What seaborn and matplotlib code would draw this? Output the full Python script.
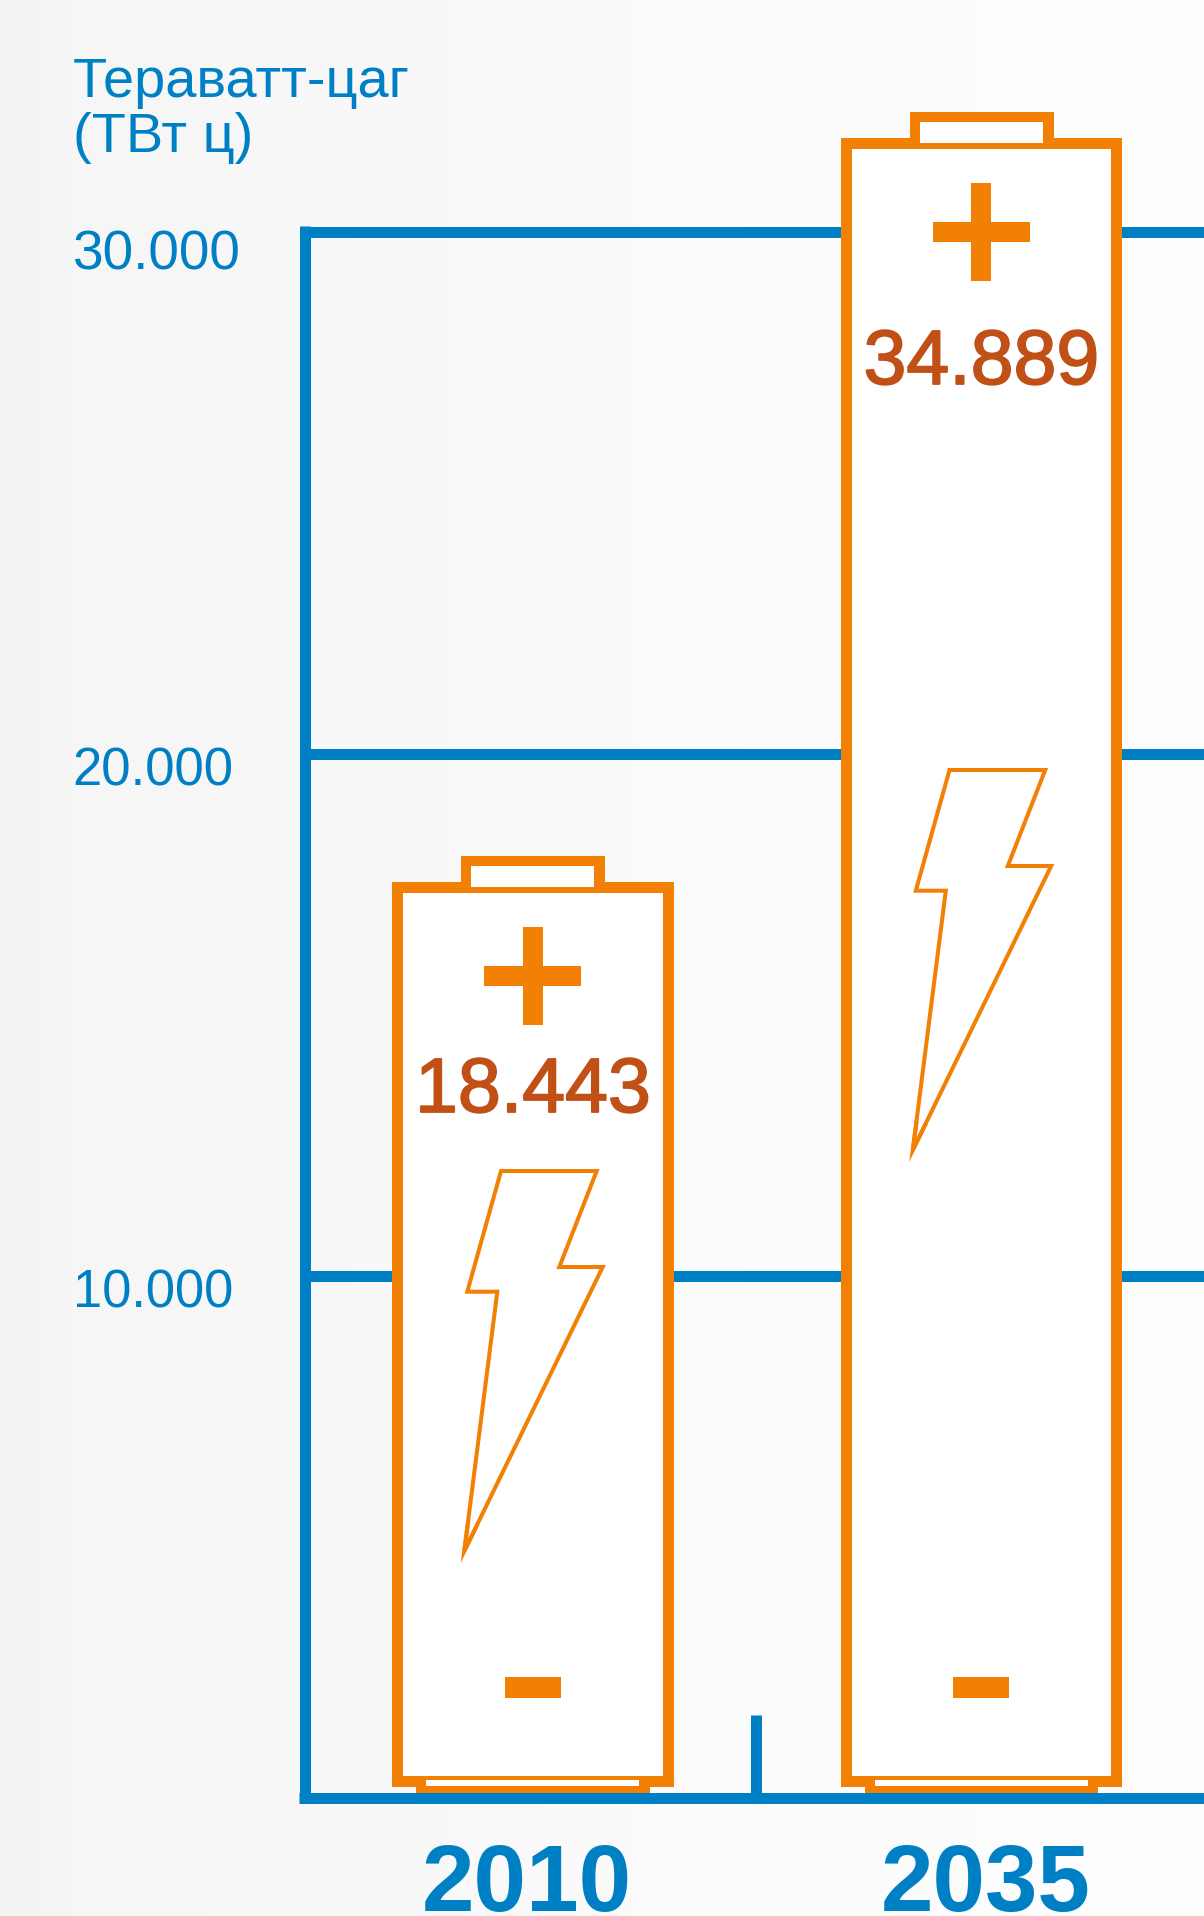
import seaborn as sns
import numpy as np
import pandas as pd
import matplotlib.pyplot as plt
import matplotlib.patheffects as pe
from matplotlib.patches import Rectangle, Polygon
from matplotlib.transforms import Affine2D

# values
years = ["2010", "2035"]
printed_values = ["18.443", "34.889"]
drawn_heights = [17433, 31686]  # the batteries are not drawn to scale
grid_values = [10000, 20000, 30000]
grid_labels = ["10.000", "20.000", "30.000"]
unit_lines = ["Тераватт-цаг", "(ТВт ц)"]

BLUE = "#0080C4"
ORANGE = "#F28005"
RUST = "#C05016"
W, H = 1204, 1916

sns.set_theme(style="white")
plt.rcParams['font.family'] = ['Liberation Sans', 'DejaVu Sans']

fig = plt.figure(figsize=(W / 100, H / 100), dpi=100)
ax = fig.add_axes([0, 0, 1, 1])
ax.set_axis_off()

# y pixel = 1797.5 - value * 0.0522
val = lambda py: (1797.5 - py) / 0.0522
cat = lambda px: (px - 532.5) / 448.5
px = Affine2D().scale(1, -1).translate(0, H)  # top-left pixel coordinates

df = pd.DataFrame({"year": years, "height": drawn_heights})
sns.barplot(data=df, x="year", y="height", order=years, width=0.604, color="white",
            saturation=1, edgecolor=ORANGE, linewidth=7.92, zorder=3, ax=ax)
ax.set(xlabel="", ylabel="")
ax.set_xlim(cat(0), cat(W))
ax.set_ylim(val(H), val(0))

floor = val(1780.5)
for p in ax.patches:
    top = p.get_y() + p.get_height()
    p.set_y(floor)
    p.set_height(top - floor)

# background
shade = np.interp(np.linspace(0, 1, 400), [0, 0.06, 0.3, 0.6, 1], [0.953, 0.961, 0.969, 0.984, 0.992])
ax.imshow(shade[None, :], cmap="gray", vmin=0, vmax=1, aspect="auto", zorder=0,
          extent=(cat(0), cat(W), val(H), val(0)))

# axes
ax.hlines(grid_values, cat(304.5), cat(W), color=BLUE, lw=7.92, zorder=1)
ax.vlines(cat(304.5), val(1803), val(226), color=BLUE, lw=7.92, zorder=5)
ax.hlines(0, cat(299), cat(W), color=BLUE, lw=7.92, zorder=5)
ax.vlines([cat(755.5), cat(1207.5)], val(1715), val(1797), color=BLUE, lw=7.92, zorder=5)

bolt = [(0, 0), (95.7, 0), (58.3, 96), (101.7, 96), (-36.7, 380), (-3.7, 120.7), (-33.7, 120.7)]
# agg cuts the sharp mitre at the foot of the bolt, so this piece is filled by hand
bolt_tip = [(-40.3, 392), (-34.8, 349.9), (-30.8, 350.5), (-33.1, 368.4), (-25.2, 352.2), (-21.6, 354)]
bolt_at = [(501, 1171), (949.5, 770)]
label_at = [(533, 1112), (981.5, 384)]
year_at = [(526.5, 1911), (986, 1911)]
centers = [532.5, 981]
tops = [882, 138]


def box(x0, y0, x1, y1, color, z=4):
    ax.add_patch(Rectangle((x0, y0), x1 - x0, y1 - y0, fc=color, ec="none", zorder=z,
                           transform=px, clip_on=False))


for i, c in enumerate(centers):
    t = tops[i]
    # top cap
    box(c - 71.5, t - 26, c + 72.5, t + 5, ORANGE)
    box(c - 61.5, t - 16, c + 61.5, t + 5, "white")
    box(c - 71.5, t + 5, c + 72.5, t + 11, ORANGE)
    # bottom cap
    box(c - 116.5, 1785, c + 117, 1793, ORANGE)
    box(c - 106.5, 1780, c + 106.5, 1786, "white")
    # plus and minus
    box(c - 48.5, t + 84, c + 48.5, t + 104, ORANGE)
    box(c - 10, t + 45, c + 10, t + 143, ORANGE)
    box(c - 28, 1677, c + 28, 1698, ORANGE)
    # bolt
    bx, by = bolt_at[i]
    ax.add_patch(Polygon([(bx + a, by + b) for a, b in bolt], closed=True, fc="white",
                         ec=ORANGE, lw=2.9, joinstyle="miter", zorder=4, transform=px,
                         clip_on=False))
    ax.add_patch(Polygon([(bx + a, by + b) for a, b in bolt_tip], closed=True, fc=ORANGE,
                         ec="none", zorder=4, transform=px, clip_on=False))
    # texts
    ax.text(label_at[i][0], label_at[i][1], printed_values[i], transform=px, ha="center",
            va="baseline", color=RUST, fontsize=55.5, zorder=6,
            path_effects=[pe.withStroke(linewidth=1.3, foreground=RUST)])
    ax.text(year_at[i][0], year_at[i][1], years[i], transform=px, ha="center",
            va="baseline", color=BLUE, fontsize=68, fontweight="bold", zorder=6)

ax.text(73, 97, unit_lines[0], transform=px, va="baseline", color=BLUE, fontsize=40.3)
ax.text(73, 152, unit_lines[1], transform=px, va="baseline", color=BLUE, fontsize=40.3)
label_y = [1308, 785, 269]
label_x = [73, 72, 73]
label_size = [37.8, 38, 39.6]
for lab, x, y, s in zip(grid_labels, label_x, label_y, label_size):
    ax.text(x, y, lab, transform=px, va="baseline", color=BLUE, fontsize=s)

fig.savefig("out.png", dpi=100)
